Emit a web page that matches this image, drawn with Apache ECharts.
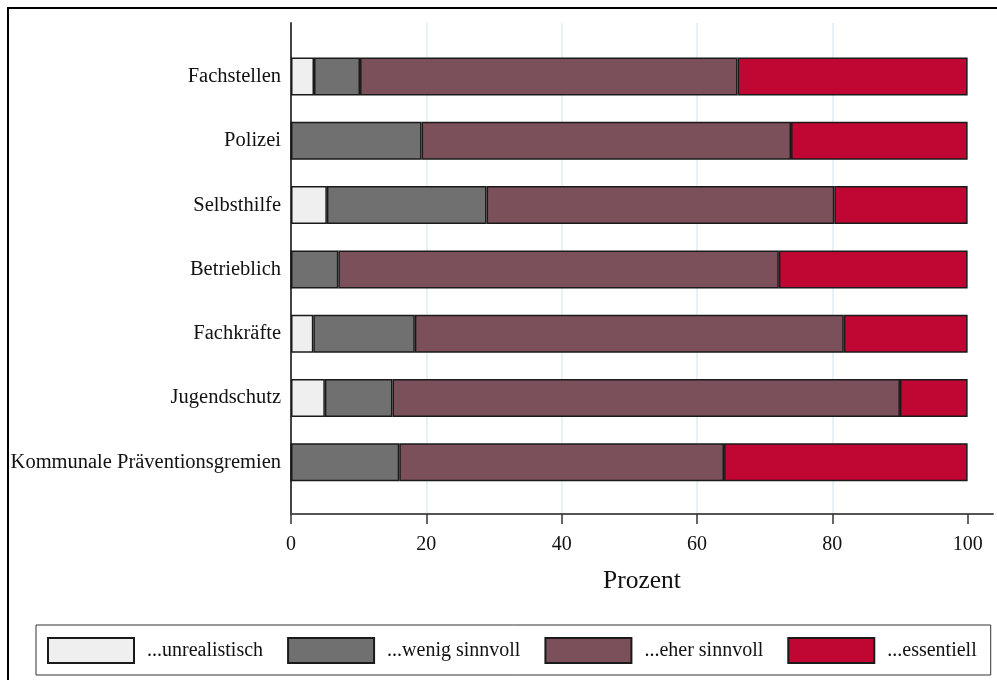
<!DOCTYPE html>
<html><head><meta charset="utf-8">
<script src="https://cdn.jsdelivr.net/npm/echarts@6/dist/echarts.min.js"></script>
<style>html,body{margin:0;padding:0;background:#fff}#c{width:997px;height:680px}</style>
</head><body><div id="c"></div>
<script>
const categories = ['Fachstellen','Polizei','Selbsthilfe','Betrieblich','Fachkräfte','Jugendschutz','Kommunale Präventionsgremien'];
const unrealistisch = [3.4, 0, 5.3, 0, 3.3, 5.0, 0];
const wenigSinnvoll = [6.8, 19.3, 23.6, 7.0, 15.0, 10.0, 16.0];
const eherSinnvoll = [55.8, 54.6, 51.4, 65.1, 63.4, 75.0, 48.0];
const essentiell = [34.0, 26.1, 19.7, 27.9, 18.3, 10.0, 36.0];
const seriesNames = ['...unrealistisch','...wenig sinnvoll','...eher sinnvoll','...essentiell'];
const xTicks = [0, 20, 40, 60, 80, 100];
const xAxisName = 'Prozent';

const colors = ['#efefef','#707070','#7b505a','#c00633'];
const serif = '"Liberation Serif","Times New Roman",serif';
const XMAX = 103.75;
const seriesData = [unrealistisch, wenigSinnvoll, eherSinnvoll, essentiell];

const chart = echarts.init(document.getElementById('c'), null, {renderer:'canvas'});
chart.setOption({
  animation:false,
  backgroundColor:'#fff',
  graphic:[{type:'rect', shape:{x:8,y:8,width:1100,height:800}, style:{fill:'none', stroke:'#000', lineWidth:2}, z:100}],
  grid:[
    {left:291, right:4, top:44.4, height:450, containLabel:false},
    {left:291, right:4, top:23, bottom:166, containLabel:false}
  ],
  xAxis:[
    {gridIndex:0, type:'value', min:0, max:XMAX, show:false, splitLine:{show:false}},
    {gridIndex:1, type:'value', min:0, max:XMAX, interval:20,
     axisLine:{show:true, lineStyle:{color:'#555', width:2}},
     axisTick:{show:true, customValues:xTicks, length:10, lineStyle:{color:'#333', width:1.5}},
     axisLabel:{customValues:xTicks, fontFamily:serif, fontSize:20, color:'#111', margin:21},
     splitLine:{show:true, showMinLine:false, showMaxLine:false, lineStyle:{color:'#e0ecf0', width:1.5}},
     name:xAxisName, nameLocation:'middle', nameGap:54,
     nameTextStyle:{fontFamily:serif, fontSize:25.5, color:'#111'}}
  ],
  yAxis:[
    {gridIndex:0, type:'category', inverse:true, data:categories,
     axisLine:{show:false}, axisTick:{show:false}, splitLine:{show:false},
     axisLabel:{fontFamily:serif, fontSize:20.5, color:'#111', margin:10}},
    {gridIndex:1, type:'value', min:0, max:1,
     axisLine:{show:true, lineStyle:{color:'#444', width:2}},
     axisTick:{show:false}, axisLabel:{show:false}, splitLine:{show:false}}
  ],
  legend:{
    left:36, top:625, width:945, orient:'horizontal', icon:'rect',
    itemWidth:86, itemHeight:25, itemGap:24,
    padding:[12,14,11,11],
    borderColor:'#333', borderWidth:1,
    textStyle:{fontFamily:serif, fontSize:20, color:'#111', padding:[0,0,0,8]},
    data:[
      {name:seriesNames[0], textStyle:{width:116}},
      {name:seriesNames[1], textStyle:{width:130}},
      {name:seriesNames[2], textStyle:{width:130}},
      {name:seriesNames[3], textStyle:{width:87}}
    ]
  },
  series: seriesNames.map((n,i)=>({
    name:n, type:'bar', stack:'total', xAxisIndex:0, yAxisIndex:0,
    barWidth:38,
    data:seriesData[i],
    itemStyle:{color:colors[i], borderColor:'#1a1a1a', borderWidth:1.5},
    emphasis:{disabled:true}
  }))
});
</script>
</body></html>
